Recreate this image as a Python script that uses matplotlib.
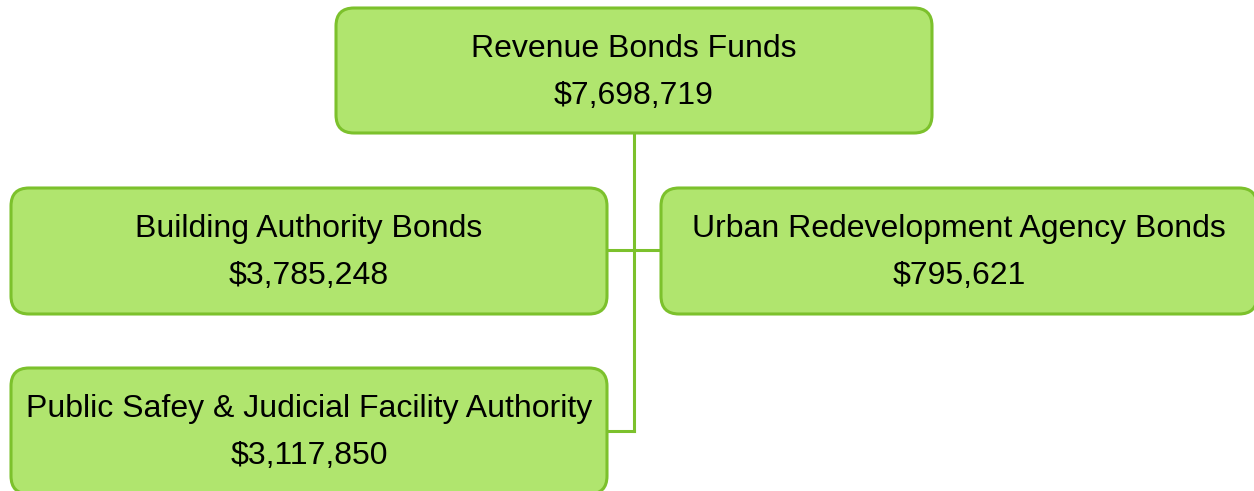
import matplotlib.pyplot as plt
from matplotlib.patches import FancyBboxPatch

plt.rcParams["font.family"] = ["Liberation Sans", "DejaVu Sans"]

# 데이터
names = [
    "Revenue Bonds Funds",
    "Building Authority Bonds",
    "Urban Redevelopment Agency Bonds",
    "Public Safey & Judicial Facility Authority",
]
amounts = [7698719, 3785248, 795621, 3117850]

# 박스 위치 (픽셀 좌표: x0, y0, w, h)
boxes = [
    (336, 8, 596, 125),
    (11, 188, 596, 126),
    (661, 188, 596, 126),
    (11, 368, 596, 126),
]

fill = "#b0e56e"
edge = "#7cc12c"
r = 18

fig = plt.figure(figsize=(12.54, 4.91), dpi=100)
ax = fig.add_axes([0, 0, 1, 1])
ax.set_xlim(0, 1254)
ax.set_ylim(491, 0)
ax.axis("off")

# 연결선
trunk_x = 634
ax.plot([trunk_x, trunk_x], [133, 431], color=edge, lw=2.2, zorder=1)
ax.plot([607, 661], [250, 250], color=edge, lw=2.2, zorder=1)
ax.plot([607, trunk_x], [431, 431], color=edge, lw=2.2, zorder=1)

for (x0, y0, w, h), name, amt in zip(boxes, names, amounts):
    patch = FancyBboxPatch(
        (x0 + r, y0 + r), w - 2 * r, h - 2 * r,
        boxstyle=f"round,pad={r}",
        facecolor=fill, edgecolor=edge, lw=2.2, zorder=2,
    )
    ax.add_patch(patch)
    cx = x0 + w / 2
    ax.text(cx, y0 + 49, name, ha="center", va="baseline", fontsize=23, zorder=3)
    ax.text(cx, y0 + 96, f"${amt:,}", ha="center", va="baseline", fontsize=23, zorder=3)

fig.savefig("out.png", dpi=100)
